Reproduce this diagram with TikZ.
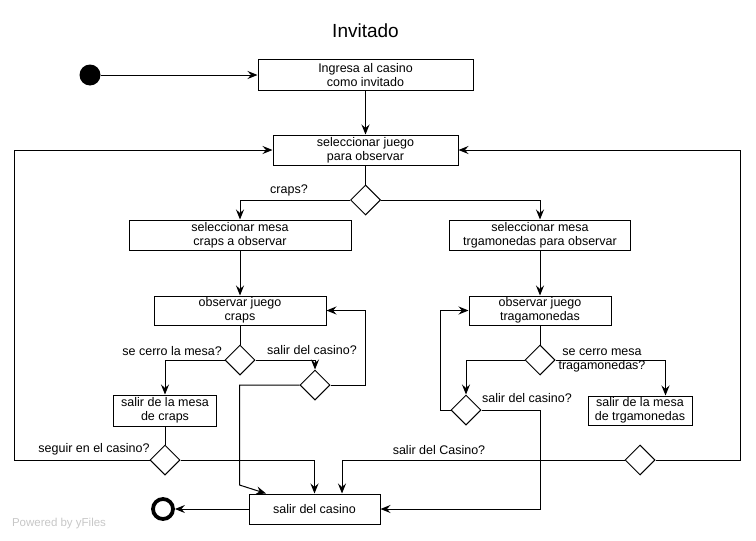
\documentclass[tikz,border=0pt]{standalone}
\usepackage{fontspec}
\setmainfont{Liberation Sans}
\usetikzlibrary{shapes.geometric,arrows.meta}
\begin{document}
\begin{tikzpicture}[x=1pt,y=-1pt,
  every node/.style={inner sep=0pt},
  lbl/.style={font=\fontsize{12.5}{14}\selectfont},
  box/.style={draw,line width=1pt,align=center,font=\fontsize{12.5}{14}\selectfont},
  dec/.style={draw,diamond,line width=1pt,minimum width=30pt,minimum height=30pt,aspect=1},
  ln/.style={line width=1pt},
  arr/.style={line width=1pt,-{Stealth[length=10pt,width=8pt,inset=3.5pt]}}]
\useasboundingbox (0,0) rectangle (756,541);
% title
\node[font=\fontsize{19}{22}\selectfont] (title) at (365.5,31) {Invitado};
% nodes
\node[circle,fill=black,minimum size=21pt] (start) at (90,75) {};
\node[box,minimum width=215pt,minimum height=31pt] (ing) at (365.5,75) {Ingresa al casino\\como invitado};
\node[box,minimum width=185pt,minimum height=30pt] (sel) at (365.5,150) {seleccionar juego\\para observar};
\node[dec] (d1) at (365.5,200) {};
\node[box,minimum width=222pt,minimum height=30pt] (mc) at (240,235) {seleccionar mesa\\craps a observar};
\node[box,minimum width=181pt,minimum height=30pt] (mt) at (540,235) {seleccionar mesa\\trgamonedas para observar};
\node[box,minimum width=172pt,minimum height=29pt] (oc) at (240,310.5) {observar juego\\craps};
\node[box,minimum width=142pt,minimum height=29pt] (ot) at (540,310.5) {observar juego\\tragamonedas};
\node[dec] (d2) at (240,360) {};
\node[dec] (d3) at (315,385) {};
\node[box,minimum width=103pt,minimum height=31pt] (sc) at (165,410.5) {salir de la mesa\\de craps};
\node[dec] (d4) at (165,460) {};
\node[dec] (d6) at (540,360) {};
\node[dec] (d7) at (466,410) {};
\node[box,minimum width=104pt,minimum height=29pt] (st) at (640,410.5) {salir de la mesa\\de trgamonedas};
\node[dec] (d5) at (640,460) {};
\node[box,minimum width=131pt,minimum height=30pt] (sal) at (314.5,509) {salir del casino};
\node[circle,draw,line width=3.8pt,minimum size=20pt] (end) at (163,509) {};
% labels
\node[lbl] (l1) at (289,190) {craps?};
\node[lbl,anchor=east] (l2) at (222,351) {se cerro la mesa?};
\node[lbl] (l3) at (312,350) {salir del casino?};
\node[lbl] (l4) at (94,449) {seguir en el casino?};
\node[lbl] (l5) at (439,450) {salir del Casino?};
\node[lbl,align=center] (l6) at (602,360) {se cerro mesa\\tragamonedas?};
\node[lbl] (l7) at (527,398) {salir del casino?};
\node[font=\fontsize{11.5}{13}\selectfont,text=black!22] (pw) at (59,524) {Powered by yFiles};
% connectors
\draw[arr] (start) -- (ing);
\draw[arr] (ing) -- (sel);
\draw[ln] (sel) -- (d1);
\draw[arr] (d1.west) -| (mc.north);
\draw[arr] (d1.east) -| (mt.north);
\draw[arr] (mc) -- (oc);
\draw[arr] (mt) -- (ot);
\draw[ln] (oc) -- (d2);
\draw[arr] (d2.west) -| (sc.north);
\draw[arr] (d2.east) -| (d3.north);
\draw[arr] (d3.east) -- ++(35,0) |- (oc.east);
\draw[arr] (d3.west) -| ++(-60,100) -- ([xshift=-48.5pt]sal.north);
\draw[ln] (sc) -- (d4);
\draw[arr] (d4.west) -- ++(-135,0) |- (sel.west);
\draw[arr] (d4.east) -| (sal.north);
\draw[arr] (d5.west) -| ([xshift=27.5pt]sal.north);
\draw[arr] (d5.east) -- ++(85,0) |- (sel.east);
\draw[ln] (ot) -- (d6);
\draw[arr] (d6.west) -| (d7.north);
\draw[arr] (d6.east) -| ([xshift=25.5pt]st.north);
\draw[arr] (d7.west) -- ++(-10,0) |- (ot.west);
\draw[arr] (d7.east) -- ++(59,0) |- (sal.east);
\draw[arr] (sal) -- (end);
\end{tikzpicture}
\end{document}
